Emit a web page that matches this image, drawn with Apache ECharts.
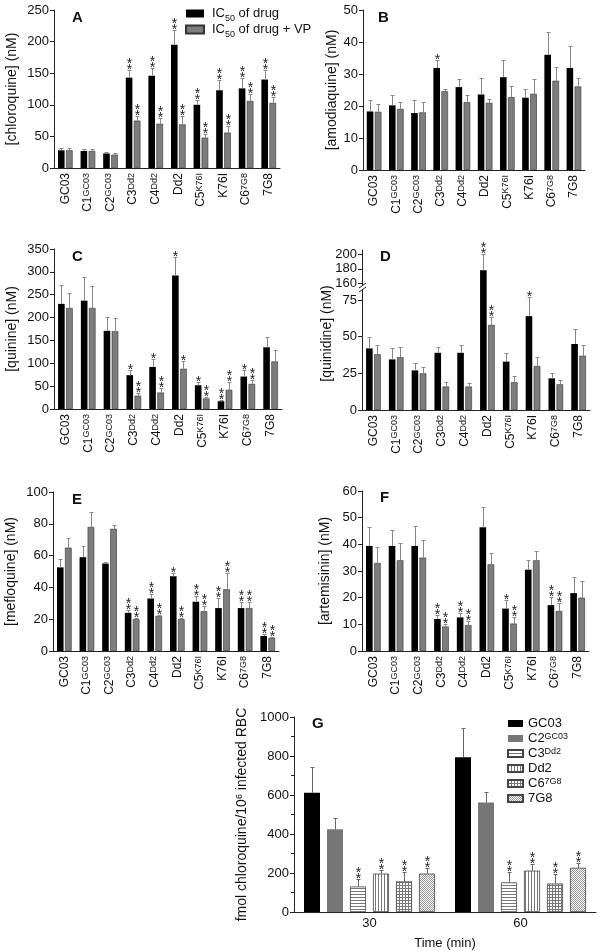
<!DOCTYPE html>
<html><head><meta charset="utf-8">
<script src="https://cdn.jsdelivr.net/npm/echarts@6/dist/echarts.min.js"></script>
<style>html,body{margin:0;padding:0;background:#fff}#c{width:601px;height:951px}</style>
</head><body><div id="c"></div>
<script>
// ---------- data ----------
const strains = ['GC03','C1^GC03','C2^GC03','C3^Dd2','C4^Dd2','Dd2','C5^K76I','K76I','C6^7G8','7G8'];

// A chloroquine
const cqDrug    = [28,27,23,143,146,195,100,123,126,140];
const cqDrugErr = [31,30,25,155,159,219,108,139,143,155];
const cqDrugSig = [0,0,0,2,2,2,2,2,2,2];
const cqVP      = [28,27,21,75,70,69,48,56,106,103];
const cqVPErr   = [31,30,24,83,79,83,54,67,117,113];
const cqVPSig   = [0,0,0,2,2,2,2,2,2,2];

// B amodiaquine
const aqDrug    = [18.3,20.2,17.8,31.9,25.9,23.6,29.0,22.6,36.0,31.9];
const aqDrugErr = [22,23.4,22,34.4,28.3,28.7,34.3,25.4,43.1,38.6];
const aqDrugSig = [0,0,0,1,0,0,0,0,0,0];
const aqVP      = [18.2,19.1,18.0,24.6,21.2,21.0,22.8,23.8,27.9,26.1];
const aqVPErr   = [20.7,21.2,21.3,25.2,23.4,22.1,26.2,28.4,32.2,28.8];
const aqVPSig   = [0,0,0,0,0,0,0,0,0,0];

// C quinine
const qnDrug    = [230,237,171,74,92,292,52,17,71,135];
const qnDrugErr = [271,289,201,86,109,333,58,20,86,158];
const qnDrugSig = [0,0,0,1,1,1,1,2,1,0];
const qnVP      = [221,221,170,29,36,88,23,42,55,104];
const qnVPErr   = [254,270,198,35,47,106,27,58,64,128];
const qnVPSig   = [0,0,0,2,2,1,2,2,2,0];

// D quinidine
const qdDrug    = [42,34.5,27,39,39,178,33,64,21.6,45];
const qdDrugErr = [50,42,32,43,44,200,38.6,77,25,55];
const qdDrugSig = [0,0,0,0,0,2,0,1,0,0];
const qdVP      = [38,36,25,16,16,58,19,30,17.5,37];
const qdVPErr   = [44,43,29,19,18.6,63.6,23,36,20.5,44];
const qdVPSig   = [0,0,0,0,0,2,0,0,0,0];

// E mefloquine
const mqDrug    = [52.6,59,55,24,33,47,31,27,27,9.4];
const mqDrugErr = [58,66,56,26,36,49,34.4,33.5,30.6,10.4];
const mqDrugSig = [0,0,0,2,2,1,2,2,2,2];
const mqVP      = [65,78,76.8,20,22,20,25,38.8,27,8.3];
const mqVPErr   = [71,87.7,79,20.6,22.5,21,28,49,30.6,9];
const mqVPSig   = [0,0,0,2,2,2,2,2,2,2];

// F artemisinin
const arDrug    = [39.4,39.4,39.4,12,12.6,46.4,15.9,30.5,17.2,21.7];
const arDrugErr = [46.6,45.5,46.7,13.4,14.3,54,19.3,34,20.4,27.6];
const arDrugSig = [0,0,0,2,2,0,1,0,2,0];
const arVP      = [33,34,35,9.2,9.7,32.5,10.3,34,15,20];
const arVPErr   = [39,40.5,41.7,10,11.3,36.6,12.6,37.4,18,26.4];
const arVPSig   = [0,0,0,2,2,0,2,0,2,0];

// G chloroquine accumulation
const times = ['30','60'];
const gNames = ['GC03','C2^GC03','C3^Dd2','Dd2','C6^7G8','7G8'];
const gVal = [[611,793],[424,561],[131,152],[197,212],[157,146],[197,227]];
const gErr = [[742,944],[480,616],[167,207],[217,247],[207,197],[227,253]];
const gSig = [[0,0],[0,0],[2,2],[2,2],[2,2],[2,2]];

// ---------- styling helpers ----------
const FF = '"Liberation Sans", Arial, Helvetica, sans-serif';
const AX = '#222';
const BW = 6.6, BGAP = 0.22;
const OFF = BW * (1 + BGAP) / 2;

function supFmt(name) {
  const p = name.split('^');
  return p.length > 1 ? '{n|' + p[0] + '}{sup|' + p[1] + '}' : '{n|' + p[0] + '}';
}
const supRich = {
  n: {fontSize: 12, fontFamily: FF, color: '#111', lineHeight: 12, padding: [4,0,0,0], verticalAlign: 'bottom'},
  sup: {fontSize: 9, fontFamily: FF, color: '#111', lineHeight: 9, verticalAlign: 'top'}
};

function catAxis(gi, show) {
  return {
    type: 'category', gridIndex: gi, data: strains,
    axisTick: {show: false},
    axisLine: {show: show, lineStyle: {color: AX, width: 1}},
    axisLabel: show ? {show: true, interval: 0, rotate: 90, margin: 5, formatter: supFmt, rich: supRich} : {show: false},
    splitLine: {show: false}
  };
}
const NAME_STYLE = {fontSize: 14, fontFamily: FF, color: '#111'};
const LABEL_STYLE = {fontSize: 13, fontFamily: FF, color: '#111', margin: 5, formatter: v => String(v)};
function valAxis(gi, min, max, interval, name, gap, extra) {
  const a = {
    type: 'value', gridIndex: gi, min: min, max: max,
    name: name, nameLocation: 'middle', nameGap: gap, nameRotate: 90,
    nameTextStyle: NAME_STYLE,
    axisLine: {show: true, lineStyle: {color: AX, width: 1}},
    axisTick: {show: true, length: 4, lineStyle: {color: AX}},
    axisLabel: LABEL_STYLE,
    splitLine: {show: false}
  };
  if (interval != null) a.interval = interval;
  return Object.assign(a, extra || {});
}
function bars(xi, drug, vp) {
  return [
    {type: 'bar', name: 'IC50 of drug', xAxisIndex: xi, yAxisIndex: xi, data: drug,
     barWidth: BW, barGap: (BGAP*100)+'%', itemStyle: {color: '#000'}},
    {type: 'bar', name: 'IC50 of drug + VP', xAxisIndex: xi, yAxisIndex: xi, data: vp,
     barWidth: BW, barGap: (BGAP*100)+'%', itemStyle: {color: '#7d7d7d', borderColor: '#333', borderWidth: 0.6}}
  ];
}
function errs(xi, vals, errv, sig, offset, lo, hi, color) {
  const data = [];
  vals.forEach((v, i) => { if (v !== '-' && v >= lo && v <= hi) data.push([i, v, errv[i], sig[i]]); });
  return {
    type: 'custom', xAxisIndex: xi, yAxisIndex: xi, silent: true, z: 5, clip: false,
    data: data, encode: {x: 0, y: [1, 2]},
    renderItem: function (params, api) {
      const i = api.value(0), v = api.value(1), e = api.value(2), s = api.value(3);
      const p = api.coord([i, v]), q = api.coord([i, e]);
      const x = Math.round(p[0] + offset) + 0.5;
      const yq = Math.round(q[1]) + 0.5;
      const ch = [
        {type: 'line', shape: {x1: x, y1: p[1], x2: x, y2: yq}, style: {stroke: color || '#888', lineWidth: 1}},
        {type: 'line', shape: {x1: x - 2, y1: yq, x2: x + 2, y2: yq}, style: {stroke: color || '#888', lineWidth: 1}}
      ];
      if (s > 0) {
        ch.push({type: 'text', x: x, y: yq + 3,
          style: {text: s === 2 ? '*\n*' : '*', font: '14px ' + FF, fill: '#222', align: 'center', verticalAlign: 'bottom', lineHeight: 6}});
      }
      return {type: 'group', children: ch};
    }
  };
}

// patterns for panel G
function makePattern(size, draw) {
  const c = document.createElement('canvas'); c.width = size; c.height = size;
  const g = c.getContext('2d'); g.fillStyle = '#fff'; g.fillRect(0, 0, size, size);
  g.fillStyle = '#777'; draw(g, size);
  return {image: c, repeat: 'repeat'};
}
const patH = makePattern(3, (g, s) => g.fillRect(0, 0, s, 1));
const patV = makePattern(3, (g, s) => g.fillRect(0, 0, 1, s));
const patGrid = makePattern(3, (g, s) => { g.fillRect(0, 0, s, 1); g.fillRect(0, 0, 1, s); });
const patDot = makePattern(2, (g, s) => { g.fillStyle = '#999'; g.fillRect(0, 0, 1, 1); g.fillRect(1, 1, 1, 1); });
const gStyles = [
  {color: '#000'},
  {color: '#777'},
  {color: patH, borderColor: '#444', borderWidth: 0.8},
  {color: patV, borderColor: '#444', borderWidth: 0.8},
  {color: patGrid, borderColor: '#444', borderWidth: 0.8},
  {color: patDot, borderColor: '#444', borderWidth: 0.8}
];

// ---------- layout ----------
const grids = [
  {left: 54, top: 10, width: 226, height: 158},   // A
  {left: 363, top: 10, width: 222, height: 160},  // B
  {left: 54, top: 249, width: 228, height: 160},  // C
  {left: 362, top: 250, width: 228, height: 39},  // D upper
  {left: 362, top: 289, width: 228, height: 121}, // D lower
  {left: 53, top: 492, width: 226, height: 159},  // E
  {left: 362, top: 491, width: 227, height: 160}, // F
  {left: 294, top: 717, width: 302, height: 198}  // G
];

const UPPER_MIN = 152, UPPER_MAX = 206, LOWER_MAX = 82.5;

const xAxes = [catAxis(0, true), catAxis(1, true), catAxis(2, true), catAxis(3, false), catAxis(4, true), catAxis(5, true), catAxis(6, true),
  {type: 'category', gridIndex: 7, data: times, axisTick: {show: false},
   axisLine: {lineStyle: {color: AX}}, axisLabel: {fontSize: 13, fontFamily: FF, color: '#111', margin: 5},
   name: 'Time (min)', nameLocation: 'middle', nameGap: 25, nameTextStyle: {fontSize: 13, fontFamily: FF, color: '#111'}}];

const yAxes = [
  valAxis(0, 0, 250, 50, '[chloroquine] (nM)', 35),
  valAxis(1, 0, 50, 10, '[amodiaquine] (nM)', 20),
  valAxis(2, 0, 350, 50, '[quinine] (nM)', 35),
  valAxis(3, UPPER_MIN, UPPER_MAX, null, '', 0, {axisLabel: Object.assign({}, LABEL_STYLE, {customValues: [160, 180, 200]}), axisTick: {show: true, length: 4, lineStyle: {color: AX}, customValues: [160, 180, 200]}}),
  valAxis(4, 0, LOWER_MAX, null, '[quinidine] (nM)', 28, {nameTextStyle: Object.assign({}, NAME_STYLE, {padding: [0,0,0,32]}), axisLabel: Object.assign({}, LABEL_STYLE, {customValues: [0, 25, 50, 75]}), axisTick: {show: true, length: 4, lineStyle: {color: AX}, customValues: [0, 25, 50, 75]}}),
  valAxis(5, 0, 100, 20, '[mefloquine] (nM)', 35),
  valAxis(6, 0, 60, 10, '[artemisinin] (nM)', 30),
  valAxis(7, 0, 1000, 200, '{n|fmol chloroquine/10}{sup|6}{n| infected RBC}', 37, {
    nameTextStyle: {fontSize: 14, fontFamily: FF, color: '#111', rich: {
      n: {fontSize: 14, fontFamily: FF, color: '#111', lineHeight: 14, padding: [3,0,0,0], verticalAlign: 'bottom'},
      sup: {fontSize: 9, fontFamily: FF, color: '#111', lineHeight: 9, verticalAlign: 'top'}}},
    minorTick: {show: true, splitNumber: 2, length: 3, lineStyle: {color: AX}}})
];

const series = [];
series.push(...bars(0, cqDrug, cqVP), errs(0, cqDrug, cqDrugErr, cqDrugSig, -OFF, -1, 1e9), errs(0, cqVP, cqVPErr, cqVPSig, OFF, -1, 1e9));
series.push(...bars(1, aqDrug, aqVP), errs(1, aqDrug, aqDrugErr, aqDrugSig, -OFF, -1, 1e9), errs(1, aqVP, aqVPErr, aqVPSig, OFF, -1, 1e9));
series.push(...bars(2, qnDrug, qnVP), errs(2, qnDrug, qnDrugErr, qnDrugSig, -OFF, -1, 1e9), errs(2, qnVP, qnVPErr, qnVPSig, OFF, -1, 1e9));
const up = arr => arr.map(v => v > UPPER_MIN ? v : '-');
series.push(...bars(3, up(qdDrug), up(qdVP)), errs(3, qdDrug, qdDrugErr, qdDrugSig, -OFF, UPPER_MIN, 1e9), errs(3, qdVP, qdVPErr, qdVPSig, OFF, UPPER_MIN, 1e9));
series.push(...bars(4, qdDrug, qdVP), errs(4, qdDrug, qdDrugErr, qdDrugSig, -OFF, -1, LOWER_MAX), errs(4, qdVP, qdVPErr, qdVPSig, OFF, -1, LOWER_MAX));
series.push(...bars(5, mqDrug, mqVP), errs(5, mqDrug, mqDrugErr, mqDrugSig, -OFF, -1, 1e9), errs(5, mqVP, mqVPErr, mqVPSig, OFF, -1, 1e9));
series.push(...bars(6, arDrug, arVP), errs(6, arDrug, arDrugErr, arDrugSig, -OFF, -1, 1e9), errs(6, arVP, arVPErr, arVPSig, OFF, -1, 1e9));

const GBW = 16, GGAP = 7;
gNames.forEach((nm, k) => {
  series.push({type: 'bar', name: nm, xAxisIndex: 7, yAxisIndex: 7, data: gVal[k],
    barWidth: GBW, barGap: (GGAP / GBW * 100) + '%', itemStyle: gStyles[k]});
});
gNames.forEach((nm, k) => {
  series.push(errs(7, gVal[k], gErr[k], gSig[k], (k - 2.5) * (GBW + GGAP), -1, 1e9, '#666'));
});

const letters = [['A',72,18],['B',378,18],['C',72,257],['D',380,257],['E',72,500],['F',380,498],['G',312,724]];
const graphic = letters.map(l => ({type: 'text', x: l[1], y: l[2], silent: true,
  style: {text: l[0], font: 'bold 15px ' + FF, fill: '#111', verticalAlign: 'middle'}}));
// axis break marks on panel D
graphic.push({type: 'rect', shape: {x: 358, y: 286, width: 8, height: 4}, style: {fill: '#fff'}, z: 100});
graphic.push({type: 'line', shape: {x1: 359, y1: 288, x2: 366, y2: 283}, style: {stroke: AX, lineWidth: 1}, z: 101});
graphic.push({type: 'line', shape: {x1: 359, y1: 292, x2: 366, y2: 287}, style: {stroke: AX, lineWidth: 1}, z: 101});

const legendRich = {
  n: {fontSize: 13, fontFamily: FF, color: '#111', lineHeight: 13, verticalAlign: 'top'},
  sub: {fontSize: 9, fontFamily: FF, color: '#111', lineHeight: 9, padding: [7,0,0,0], verticalAlign: 'top'}
};
const gLegendRich = {
  n: {fontSize: 13, fontFamily: FF, color: '#111', lineHeight: 13, padding: [3,0,0,0], verticalAlign: 'bottom'},
  sup: {fontSize: 9, fontFamily: FF, color: '#111', lineHeight: 9, verticalAlign: 'top'}
};

const option = {
  animation: false,
  backgroundColor: '#fff',
  textStyle: {fontFamily: FF},
  grid: grids,
  xAxis: xAxes,
  yAxis: yAxes,
  series: series,
  graphic: graphic,
  legend: [
    {data: ['IC50 of drug', 'IC50 of drug + VP'], orient: 'vertical', left: 185, top: 7, padding: 0,
     itemWidth: 18, itemHeight: 8, itemGap: 0, icon: 'rect', selectedMode: false,
     formatter: nm => { const p = nm.split('50'); return '{n|' + p[0] + '}{sub|50}{n|' + p[1] + '}'; },
     textStyle: {fontSize: 13, fontFamily: FF, rich: legendRich, padding: [0,0,0,3]}},
    {data: gNames, orient: 'vertical', left: 507, top: 714, padding: 0,
     itemWidth: 15, itemHeight: 7, itemGap: -1, icon: 'rect', selectedMode: false,
     formatter: supFmt, textStyle: {fontSize: 13, fontFamily: FF, rich: gLegendRich}}
  ]
};

const chart = echarts.init(document.getElementById('c'), null, {renderer: 'canvas', width: 601, height: 951});
chart.setOption(option);
</script>
</body></html>
